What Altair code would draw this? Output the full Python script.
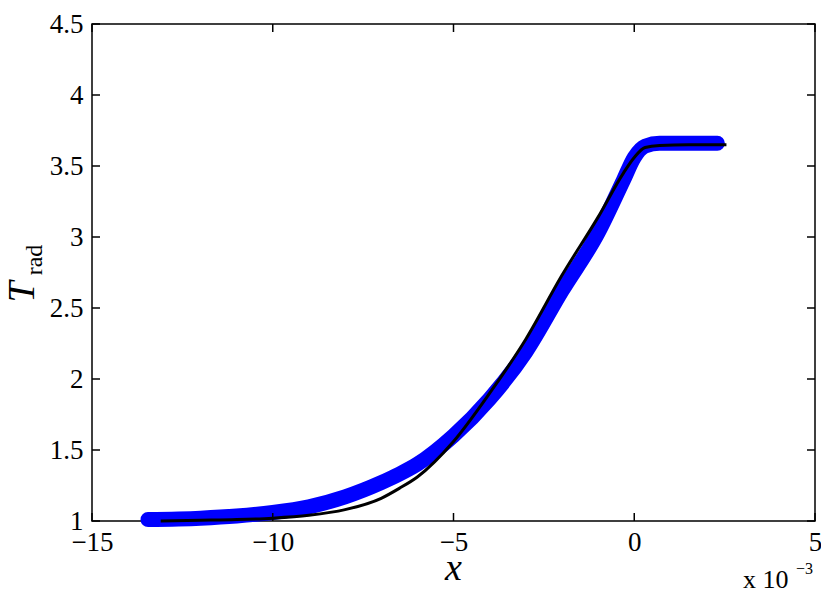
import altair as alt
import pandas as pd

# x values in units of 1e-3
blue_x = [-13.45, -12.0, -11.0, -10.0, -9.0, -8.0, -7.0, -6.5, -6.0, -5.0, -4.0, -3.0, -2.0, -1.0, -0.3, 0.0, 0.3, 0.7, 1.5, 2.3]
blue_y = [1.01, 1.02, 1.035, 1.06, 1.1, 1.17, 1.27, 1.33, 1.40, 1.60, 1.86, 2.19, 2.62, 3.03, 3.40, 3.56, 3.64, 3.66, 3.66, 3.66]
black_x = [-13.1, -12.0, -11.0, -10.0, -9.0, -8.0, -7.0, -6.5, -6.0, -5.0, -4.0, -3.0, -2.0, -1.0, -0.3, 0.0, 0.3, 0.7, 1.5, 2.55]
black_y = [1.0, 1.005, 1.01, 1.02, 1.04, 1.08, 1.16, 1.23, 1.31, 1.56, 1.90, 2.28, 2.73, 3.14, 3.45, 3.56, 3.63, 3.645, 3.65, 3.65]

x_ticks = [-15, -10, -5, 0, 5]
y_ticks = [1, 1.5, 2, 2.5, 3, 3.5, 4, 4.5]

W, H = 723, 497
FONT = "Liberation Serif"

blue = pd.DataFrame({"x": blue_x, "y": blue_y})
black = pd.DataFrame({"x": black_x, "y": black_y})
xt = pd.DataFrame({"v": x_ticks})
yt = pd.DataFrame({"v": y_ticks})

xs = alt.Scale(domain=[-15, 5], nice=False, zero=False)
ys = alt.Scale(domain=[1, 4.5], nice=False, zero=False)

x_axis = alt.Axis(values=x_ticks, title=None, grid=False, domain=False, tickSize=0,
                  labelFont=FONT, labelFontSize=27, labelColor="black", labelPadding=8,
                  labelFlush=False)
y_axis = alt.Axis(values=y_ticks, title=None, grid=False, domain=False, tickSize=0,
                  labelFont=FONT, labelFontSize=27, labelColor="black", labelPadding=9,
                  format=".2~f", labelFlush=False)

blue_line = alt.Chart(blue).mark_line(color="#0000FF", strokeWidth=15, strokeCap="round",
                                      strokeJoin="round", interpolate="monotone").encode(
    x=alt.X("x:Q", scale=xs, axis=x_axis),
    y=alt.Y("y:Q", scale=ys, axis=y_axis),
)
black_line = alt.Chart(black).mark_line(color="black", strokeWidth=3,
                                        interpolate="monotone").encode(
    x=alt.X("x:Q", scale=xs), y=alt.Y("y:Q", scale=ys)
)

TL = 8
bot_ticks = alt.Chart(xt).mark_rule(color="black", strokeWidth=1.5).encode(
    x=alt.X("v:Q", scale=xs), y=alt.value(H), y2=alt.value(H - TL))
top_ticks = alt.Chart(xt).mark_rule(color="black", strokeWidth=1.5).encode(
    x=alt.X("v:Q", scale=xs), y=alt.value(0), y2=alt.value(TL))
left_ticks = alt.Chart(yt).mark_rule(color="black", strokeWidth=1.5).encode(
    y=alt.Y("v:Q", scale=ys), x=alt.value(0), x2=alt.value(TL))
right_ticks = alt.Chart(yt).mark_rule(color="black", strokeWidth=1.5).encode(
    y=alt.Y("v:Q", scale=ys), x=alt.value(W), x2=alt.value(W - TL))

def label(text, x, y, size, style="normal", angle=0, align="center", baseline="middle"):
    return alt.Chart(pd.DataFrame({"t": [text]})).mark_text(
        font=FONT, fontSize=size, fontStyle=style, color="black", angle=angle,
        align=align, baseline=baseline).encode(
        text="t:N", x=alt.value(x), y=alt.value(y))

xlabel = label("x", W / 2, 556, 38, style="italic", baseline="alphabetic")
ylab_T = label("T", -69, 268, 38, style="italic", angle=270)
ylab_sub = label("rad", -57, 236, 24, angle=270)
exp_base = label("x 10", 651, 564, 26, align="left", baseline="alphabetic")
exp_sup = label("\u22123", 704, 550, 16, align="left", baseline="alphabetic")

chart = alt.layer(
    blue_line, black_line, bot_ticks, top_ticks, left_ticks, right_ticks,
    xlabel, ylab_T, ylab_sub, exp_base, exp_sup
).properties(
    width=W, height=H,
    padding={"left": 84, "top": 16, "right": 6, "bottom": 69},
    autosize=alt.AutoSizeParams(type="none"),
    background="white",
).configure_view(stroke="black", strokeWidth=1.5)

chart.save("out.html", embed_options={"renderer": "svg", "actions": False})
